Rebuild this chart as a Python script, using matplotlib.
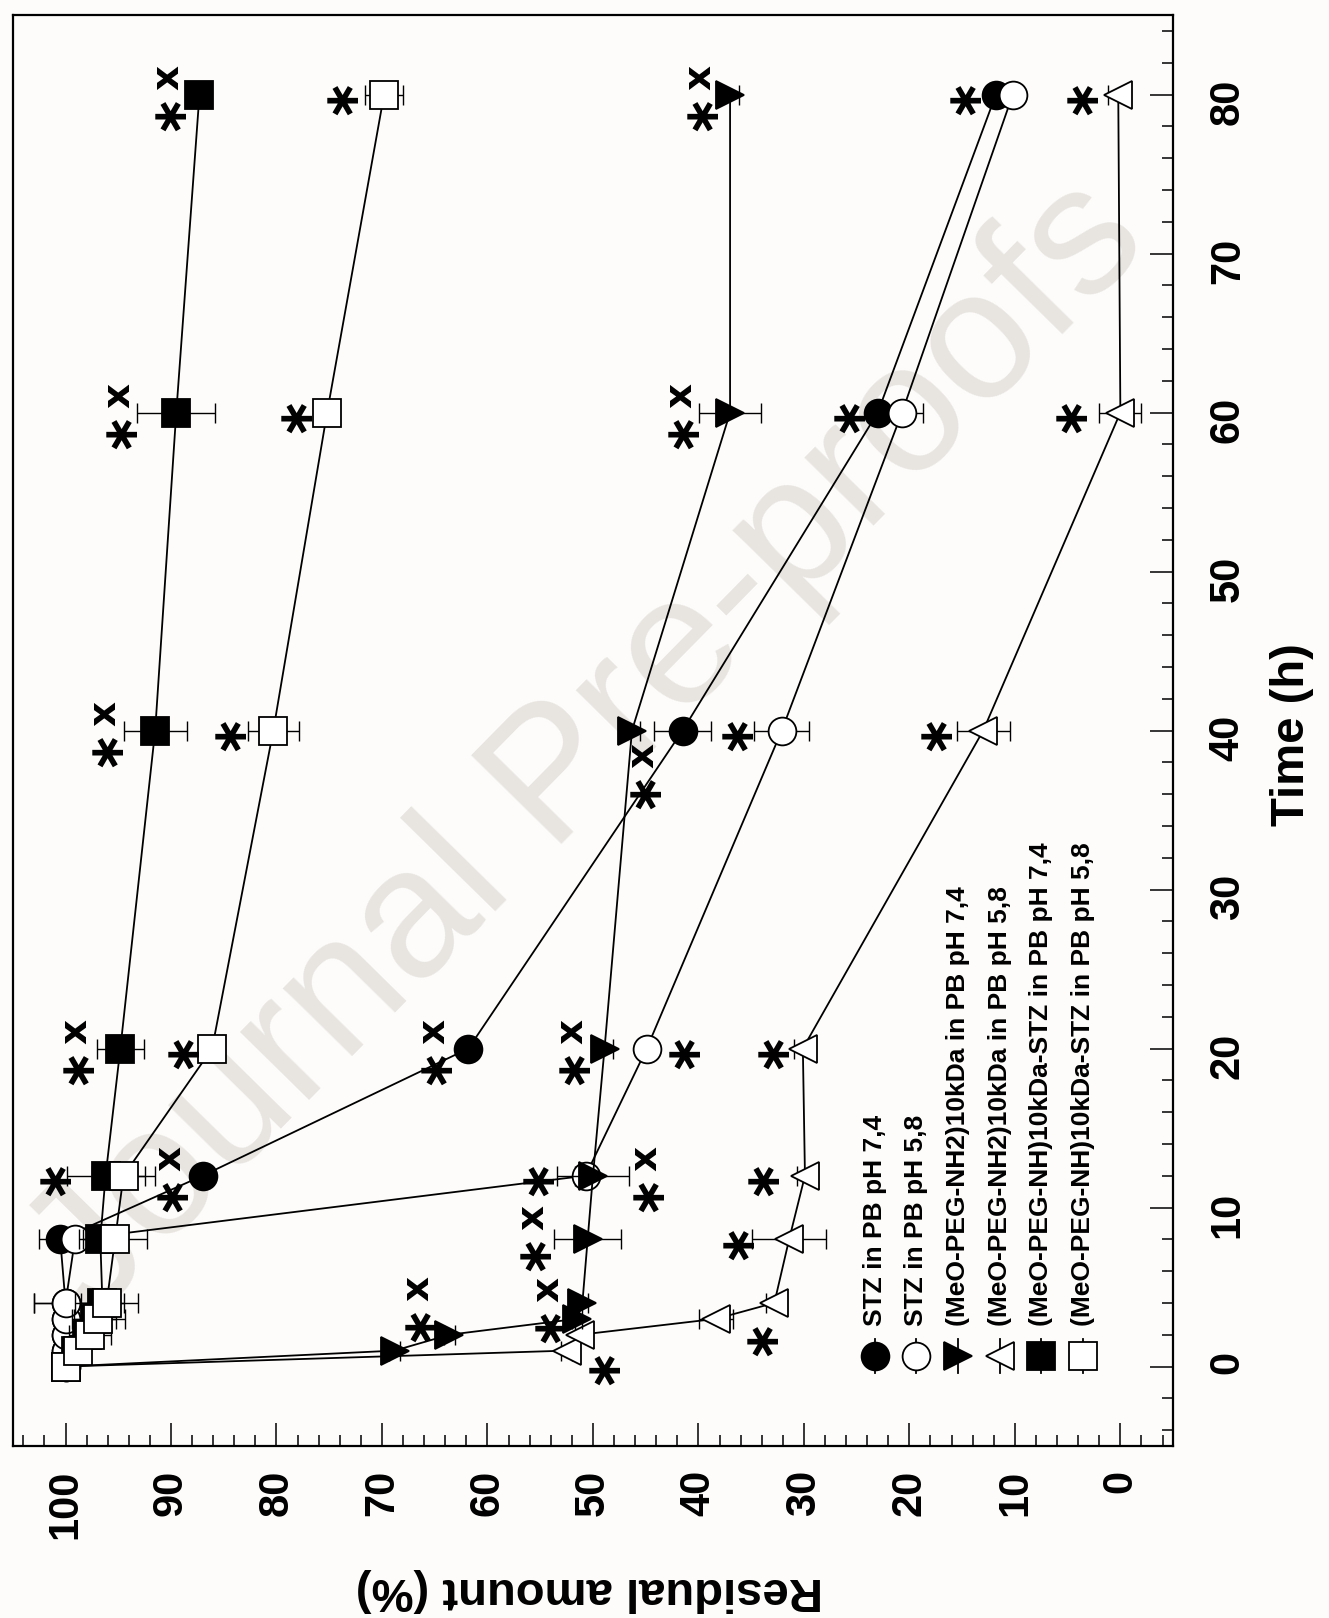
import matplotlib.pyplot as plt
from matplotlib.ticker import MultipleLocator

plt.rcParams['font.family'] = ['Liberation Sans', 'DejaVu Sans']

# sampling times (h)
time_h = [0, 1, 2, 3, 4, 8, 12, 20, 40, 60, 80]

# residual amount (%) and SD for each formulation
stz_74 = [100, 100, 100, 100, 100, 100.5, 87.0, 61.8, 41.5, 23.0, 11.8]
stz_74_sd = [0, 0.5, 0.5, 0.5, 3.0, 2.0, 0.8, 0.8, 2.7, 0.8, 0.8]
stz_58 = [100, 100, 100, 100, 100, 99.1, 50.7, 44.9, 32.1, 20.7, 10.2]
stz_58_sd = [0, 0.5, 0.5, 0.5, 3.0, 1.0, 1.0, 0.8, 2.6, 2.0, 0.8]
peg_nh2_74 = [100, 68.8, 63.6, 51.5, 51.0, 50.5, 50.0, 48.9, 46.3, 37.0, 37.0]
peg_nh2_74_sd = [0, 0.5, 0.5, 0.5, 0.5, 3.2, 3.4, 0.8, 0.8, 2.9, 0.8]
peg_nh2_58 = [100, 52.5, 51.2, 38.3, 32.8, 31.4, 29.9, 30.1, 13.0, 0.0, 0.2]
peg_nh2_58_sd = [0, 0.5, 0.5, 1.6, 0.8, 3.5, 0.8, 0.8, 2.5, 2.0, 1.0]
conj_74 = [100, 99.0, 98.0, 97.2, 96.5, 96.7, 96.2, 94.8, 91.5, 89.5, 87.3]
conj_74_sd = [0, 0.5, 0.5, 2.0, 2.0, 2.0, 3.7, 2.2, 3.0, 3.7, 0.8]
conj_58 = [100, 98.8, 97.7, 96.9, 96.1, 95.3, 94.5, 86.1, 80.3, 75.2, 69.8]
conj_58_sd = [0, 1.0, 2.0, 2.5, 3.0, 3.0, 3.0, 0.8, 2.4, 0.8, 1.8]

labels = [
    'STZ in PB pH 7,4',
    'STZ in PB pH 5,8',
    '(MeO-PEG-NH2)10kDa in PB pH 7,4',
    '(MeO-PEG-NH2)10kDa in PB pH 5,8',
    '(MeO-PEG-NH)10kDa-STZ in PB pH 7,4',
    '(MeO-PEG-NH)10kDa-STZ in PB pH 5,8',
]

# significance marks: (time, text, dx px, dy px) relative to the point
marks_stz_74 = [(80, '*', -34, 0), (60, '*', -31, 0), (40, '*x', -40, -42),
                (20, '*x', -35, 0), (12, '*x', -33, 0)]
marks_stz_58 = [(40, '*', -47, 0), (20, '*', 35, 0), (12, '*x', 60, 0)]
marks_nh2_74 = [(80, '*x', -31, 0), (60, '*x', -50, 0), (20, '*x', -33, 0),
                (12, '*', -58, 0), (8, '*x', -55, 5), (3, '*x', -30, 12),
                (2, '*x', -32, 29)]
marks_nh2_58 = [(80, '*', -39, 0), (60, '*', -52, 0), (40, '*', -50, 0),
                (20, '*', -33, 0), (12, '*', -45, 0), (8, '*', -54, 0),
                (3, '*', 43, -17), (1, '*', 35, -14)]
marks_conj_74 = [(80, '*x', -32, 0), (60, '*x', -58, 0), (40, '*x', -51, 0),
                 (20, '*x', -45, 0), (12, '*', -53, 0)]
marks_conj_58 = [(80, '*', -45, 0), (60, '*', -34, 0), (40, '*', -46, 0),
                 (20, '*', -32, 0)]

# drawing order; markers are given in screen orientation (plot is sideways)
series = [
    (stz_74, stz_74_sd, 'o', 'black', marks_stz_74),
    (stz_58, stz_58_sd, 'o', 'white', marks_stz_58),
    (peg_nh2_58, peg_nh2_58_sd, '<', 'white', marks_nh2_58),
    (peg_nh2_74, peg_nh2_74_sd, '>', 'black', marks_nh2_74),
    (conj_74, conj_74_sd, 's', 'black', marks_conj_74),
    (conj_58, conj_58_sd, 's', 'white', marks_conj_58),
]
legend_order = [0, 1, 3, 2, 4, 5]

bg = '#fdfcfa'
fig = plt.figure(figsize=(13.29, 16.18), dpi=100)
fig.patch.set_facecolor(bg)
ax = fig.add_axes([0.0096, 0.1063, 0.8731, 0.8844])
ax.set_facecolor(bg)

ax.text(0.496, 0.488, 'Journal Pre-proofs', transform=ax.transAxes,
        rotation=45.5, fontsize=132, color='#e8e5e1', ha='center',
        va='center', zorder=0.5)


def put_mark(txt, r, t, dx, dy):
    # "*" below, "x" above, reading up the rotated page
    if txt == '*x':
        ax.annotate('x', xy=(r, t), xytext=(dx, dy + 17),
                    textcoords='offset pixels', rotation=90, ha='center',
                    va='center', fontsize=28, fontweight='bold',
                    family='DejaVu Sans', zorder=5)
        dy -= 16
    ax.annotate('\u2217', xy=(r, t), xytext=(dx, dy),
                textcoords='offset pixels', rotation=90, ha='center',
                va='center', fontsize=35, fontweight='bold',
                family='DejaVu Sans', zorder=5)


ms = 20
for i, (vals, sd, mk, fc, marks) in enumerate(series):
    z = 2 + i * 0.2
    ax.errorbar(vals, time_h, xerr=sd, fmt='none', ecolor='black',
                elinewidth=1.0, capsize=7.5, capthick=1.0, zorder=z)
    ax.plot(vals, time_h, color='black', lw=1.3, marker=mk, ms=ms,
            mfc=fc, mec='black', mew=1.3, zorder=z + 0.1)
    for t, txt, dx, dy in marks:
        put_mark(txt, vals[time_h.index(t)], t, dx, dy)

# legend keys drawn as vertical entries
key_x0, key_dx = 0.743, 0.0358
key_y = 0.0629
for n, idx in enumerate(legend_order):
    vals, sd, mk, fc, marks = series[idx]
    kx = key_x0 + n * key_dx
    ax.plot([kx, kx], [key_y - 0.012, key_y + 0.012], transform=ax.transAxes,
            color='black', lw=1.3, zorder=6)
    ax.plot([kx], [key_y], transform=ax.transAxes, marker=mk, ms=ms,
            mfc=fc, mec='black', mew=1.3, zorder=6.5)
    ax.text(kx, 0.084, labels[n], transform=ax.transAxes, rotation=90,
            ha='center', va='bottom', fontsize=19, fontweight='bold', zorder=6)

ax.xaxis.set_major_locator(MultipleLocator(10))
ax.xaxis.set_minor_locator(MultipleLocator(2))
ax.yaxis.set_major_locator(MultipleLocator(10))
ax.yaxis.set_minor_locator(MultipleLocator(2))
ax.set_xticks(range(0, 101, 10))
ax.set_yticks(range(0, 81, 10))
# residual runs along x (reversed), time along y
ax.set_xlim(105, -5)
ax.set_ylim(-5, 85)

ax.tick_params(axis='x', which='both', direction='in', bottom=True, top=False,
               labelrotation=90, pad=17)
ax.tick_params(axis='y', which='both', direction='in', left=False, right=True,
               labelleft=False, labelright=True, labelrotation=90, pad=25)
ax.tick_params(which='major', length=16.5, width=1.1, labelsize=30)
ax.tick_params(which='minor', length=8, width=1.1)
for lab in ax.get_xticklabels() + ax.get_yticklabels():
    lab.set_fontweight('bold')
for sp in ax.spines.values():
    sp.set_linewidth(1.6)

fig.text(589 / 1329, 1 - 1590 / 1618, 'Residual amount (%)', rotation=180,
         ha='center', va='center', fontsize=34, fontweight='bold')
fig.text(1292 / 1329, 1 - 735 / 1618, 'Time (h)', rotation=90,
         ha='center', va='center', fontsize=34, fontweight='bold')

fig.savefig('out.png', dpi=100, facecolor=bg)
